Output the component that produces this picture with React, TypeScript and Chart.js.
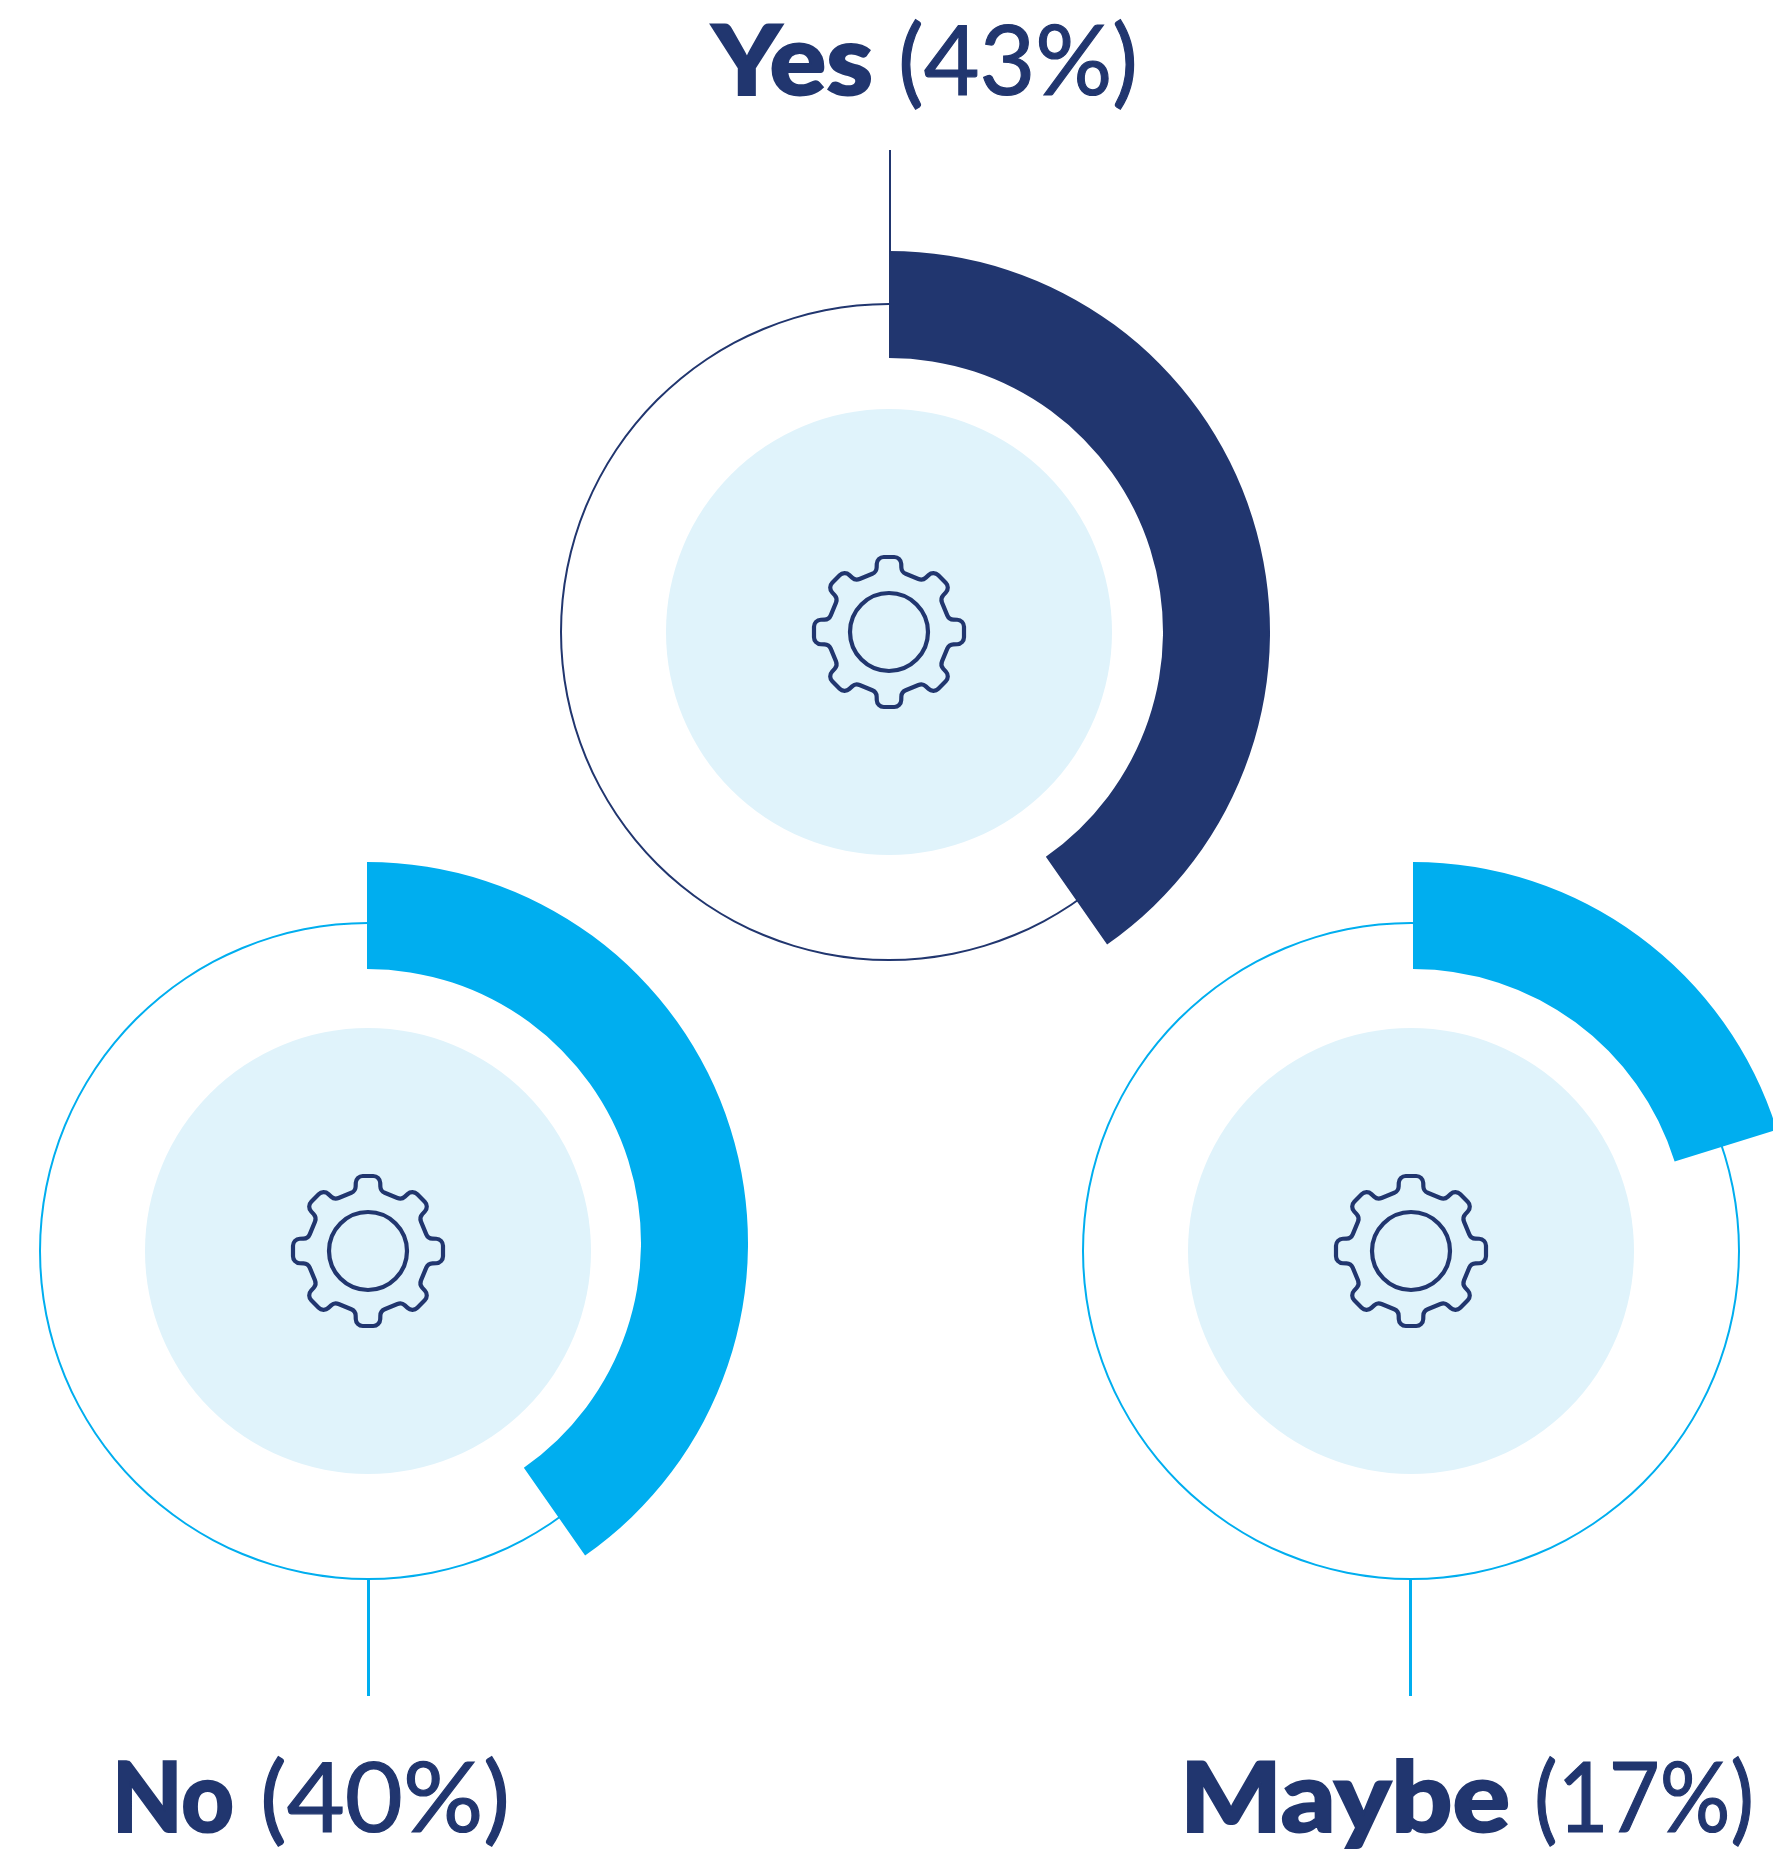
import React, { useEffect, useRef } from "react";
import { Chart, registerables } from "chart.js";

Chart.register(...registerables);

// ---- data ----
const categories = ["Yes", "No", "Maybe"];
const labelPercents = [43, 40, 17];
const arcShares = [40.3, 40.3, 20.2]; // share of the circle each thick arc sweeps

// ---- styles ----
const NAVY = "#21366f";
const CYAN = "#00aeef";
const DISK = "#e0f3fb";
const FONT = "Lato, sans-serif";

// ---- layout ----
const PAGE_W = 1773;
const PAGE_H = 1852;
const ARC_OUTER = 381;
const ARC_INNER = 274;
const RING_R = 329;
const RING_W = 2;
const DISK_R = 223;
const PAD = 130;

const layouts = [
  { ringX: 889, ringY: 632, arcX: 889, arcY: 632, color: NAVY, leadDx: 1, leadFrom: -328, leadTo: -482 },
  { ringX: 368, ringY: 1251, arcX: 367, arcY: 1243, color: CYAN, leadDx: 0.6, leadFrom: 328, leadTo: 445 },
  { ringX: 1411, ringY: 1251, arcX: 1413, arcY: 1243, color: CYAN, leadDx: -0.4, leadFrom: 328, leadTo: 445 },
];

const labelLayouts = [
  { boldX: 712, boldW: 161, restX: 898, restW: 240, baseline: 96 },
  { boldX: 112, boldW: 122, restX: 260, restW: 250, baseline: 1833 },
  { boldX: 1180, boldW: 330, restX: 1534, restW: 220, baseline: 1833 },
];
const FONT_SIZE = 97;
const ASCENT = 0.987;

function gearPath(ctx: CanvasRenderingContext2D, cx: number, cy: number) {
  const teeth = 8;
  const rot = (p: [number, number], a: number): [number, number] => [
    cx + p[0] * Math.cos(a) - p[1] * Math.sin(a),
    cy + p[0] * Math.sin(a) + p[1] * Math.cos(a),
  ];
  const verts: [number, number][] = [];
  for (let i = 0; i < teeth; i++) {
    const a = (i * 2 * Math.PI) / teeth;
    verts.push(rot([-12, -75], a), rot([12, -75], a), rot([12.5, -60], a), rot([-12.5, -60], a + (2 * Math.PI) / teeth));
  }
  ctx.beginPath();
  const n = verts.length;
  const mid = (p: [number, number], q: [number, number]) => [(p[0] + q[0]) / 2, (p[1] + q[1]) / 2];
  const s = mid(verts[n - 1], verts[0]);
  ctx.moveTo(s[0], s[1]);
  for (let i = 0; i < n; i++) {
    const v = verts[i];
    const w = verts[(i + 1) % n];
    ctx.arcTo(v[0], v[1], w[0], w[1], 7);
  }
  ctx.closePath();
}

function Panel({ index }: { index: number }) {
  const ringRef = useRef<HTMLCanvasElement>(null);
  const arcRef = useRef<HTMLCanvasElement>(null);
  const L = layouts[index];

  useEffect(() => {
    const decor = {
      id: "decor",
      beforeDatasetsDraw(chart: any) {
        const { ctx } = chart;
        const c = RING_R + PAD;
        ctx.save();
        ctx.fillStyle = DISK;
        ctx.beginPath();
        ctx.arc(c, c, DISK_R, 0, Math.PI * 2);
        ctx.fill();
        ctx.restore();
      },
      afterDatasetsDraw(chart: any) {
        const { ctx } = chart;
        const c = RING_R + PAD;
        ctx.save();
        ctx.strokeStyle = NAVY;
        ctx.lineWidth = 4.2;
        ctx.lineJoin = "round";
        gearPath(ctx, c, c);
        ctx.stroke();
        ctx.beginPath();
        ctx.arc(c, c, 39, 0, Math.PI * 2);
        ctx.stroke();
        ctx.restore();
      },
    };
    const ring = new Chart(ringRef.current!, {
      type: "doughnut",
      data: {
        labels: [categories[index]],
        datasets: [{ data: [100], backgroundColor: [L.color], borderWidth: 0 }],
      },
      options: {
        animation: false,
        responsive: false,
        cutout: RING_R - RING_W,
        layout: { padding: PAD },
        plugins: { legend: { display: false }, tooltip: { enabled: false } },
      } as any,
      plugins: [decor],
    });
    const arc = new Chart(arcRef.current!, {
      type: "doughnut",
      data: {
        labels: [categories[index], ""],
        datasets: [
          {
            data: [arcShares[index], 100 - arcShares[index]],
            backgroundColor: [L.color, "rgba(0,0,0,0)"],
            borderWidth: 0,
          },
        ],
      },
      options: {
        animation: false,
        responsive: false,
        cutout: ARC_INNER,
        plugins: { legend: { display: false }, tooltip: { enabled: false } },
      } as any,
    });
    return () => {
      ring.destroy();
      arc.destroy();
    };
  }, [index]);

  const ringSize = 2 * (RING_R + PAD);
  const leadTop = L.ringY + Math.min(L.leadFrom, L.leadTo);
  const leadH = Math.abs(L.leadTo - L.leadFrom);
  return (
    <>
      <canvas
        ref={ringRef}
        width={ringSize}
        height={ringSize}
        style={{ position: "absolute", left: L.ringX - RING_R - PAD, top: L.ringY - RING_R - PAD, width: ringSize, height: ringSize }}
      />
      <div
        style={{
          position: "absolute",
          left: L.ringX + L.leadDx - 1.25,
          top: leadTop,
          width: 2.5,
          height: leadH,
          background: L.color,
        }}
      />
      <canvas
        ref={arcRef}
        width={ARC_OUTER * 2}
        height={ARC_OUTER * 2}
        style={{ position: "absolute", left: L.arcX - ARC_OUTER, top: L.arcY - ARC_OUTER, width: ARC_OUTER * 2, height: ARC_OUTER * 2 }}
      />
    </>
  );
}

function FitText({ text, x, w, top, weight, stroke }: { text: string; x: number; w: number; top: number; weight: number; stroke: number }) {
  const ref = useRef<HTMLSpanElement>(null);
  useEffect(() => {
    const el = ref.current!;
    el.style.transform = "none";
    const measured = el.getBoundingClientRect().width;
    el.style.transform = `scaleX(${w / measured})`;
  }, [text, w]);
  return (
    <span
      ref={ref}
      style={{
        position: "absolute",
        left: x,
        top,
        fontFamily: FONT,
        fontSize: FONT_SIZE,
        lineHeight: "1.2",
        color: NAVY,
        whiteSpace: "pre",
        fontWeight: weight,
        transformOrigin: "0 0",
        WebkitTextStroke: `${stroke}px ${NAVY}`,
      }}
    >
      {text}
    </span>
  );
}

function Label({ index }: { index: number }) {
  const T = labelLayouts[index];
  const top = T.baseline - ASCENT * FONT_SIZE;
  return (
    <>
      <FitText text={categories[index]} x={T.boldX} w={T.boldW} top={top} weight={900} stroke={2} />
      <FitText text={`(${labelPercents[index]}%)`} x={T.restX} w={T.restW} top={top} weight={400} stroke={1.2} />
    </>
  );
}

export default function App() {
  useEffect(() => {
    document.body.style.margin = "0";
  }, []);
  return (
    <div style={{ position: "absolute", left: 0, top: 0, width: PAGE_W, height: PAGE_H, overflow: "hidden", background: "#fff" }}>
      {categories.map((_, i) => (
        <Panel key={i} index={i} />
      ))}
      {categories.map((_, i) => (
        <Label key={i} index={i} />
      ))}
    </div>
  );
}
